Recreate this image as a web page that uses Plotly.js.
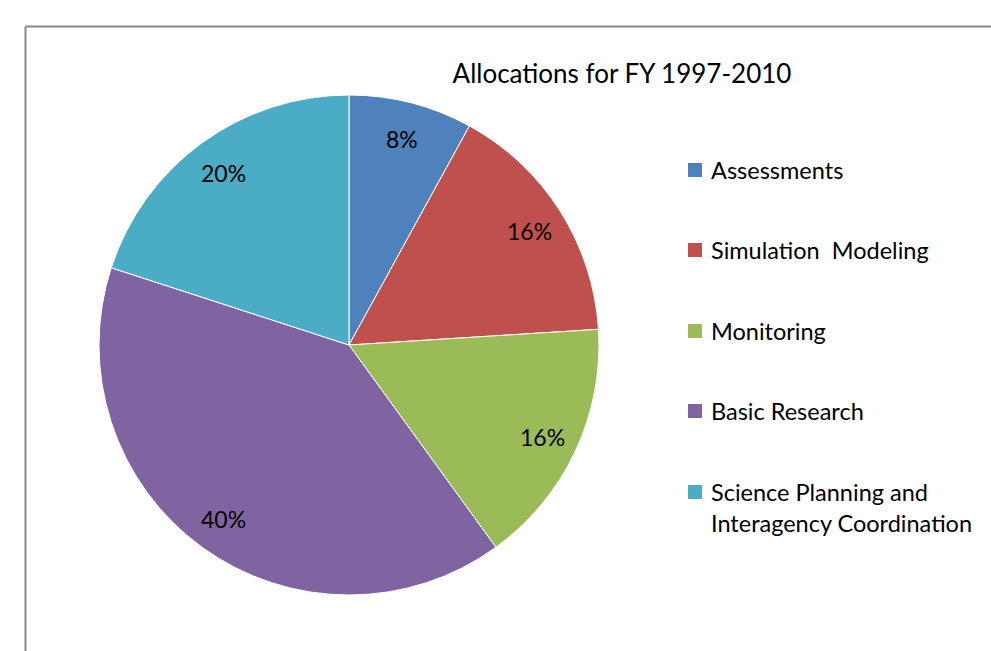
<!DOCTYPE html>
<html>
<head>
<meta charset="utf-8">
<script src="https://cdn.plot.ly/plotly-3.0.1.min.js"></script>
<style>html,body{margin:0;padding:0;background:#fff;}#chart{width:991px;height:651px;}</style>
</head>
<body>
<div id="chart"></div>
<script>
var categories = ["Assessments", "Simulation  Modeling", "Monitoring", "Basic Research", "Science Planning and Interagency Coordination"];
var legendText = ["Assessments", "Simulation  Modeling", "Monitoring", "Basic Research", "Science Planning and<br>Interagency Coordination"];
var values = [8, 16, 16, 40, 20];
var colors = ["#4F81BD", "#C0504D", "#9BBB59", "#8064A2", "#4BACC6"];
var titleText = "Allocations for FY 1997-2010";

var W = 991, H = 651;
var cx = 349, cy = 345, R = 250;
var FONT = "Lato, 'Open Sans', sans-serif";
function px(x){ return x / W; }
function py(y){ return 1 - y / H; }

var trace = {
  type: "pie",
  labels: categories,
  values: values,
  sort: false,
  direction: "clockwise",
  rotation: 0,
  marker: { colors: colors, line: { color: "#ffffff", width: 1 } },
  textinfo: "none",
  hoverinfo: "label+percent",
  showlegend: false,
  domain: { x: [px(cx - R), px(cx + R)], y: [py(cy + R), py(cy - R)] }
};

var annotations = [];
var total = values.reduce(function(a,b){return a+b;}, 0);
var cum = 0;
for (var i = 0; i < values.length; i++) {
  var mid = (cum + values[i] / 2) / total * 2 * Math.PI;
  cum += values[i];
  var r = 0.855 * R;
  annotations.push({
    xref: "paper", yref: "paper",
    x: px(cx + r * Math.sin(mid)), y: py(cy - r * Math.cos(mid) + 1),
    text: Math.round(values[i] / total * 100) + "%",
    showarrow: false, xanchor: "center", yanchor: "middle",
    font: { family: FONT, size: 23, color: "#000" }
  });
}

var legendY = [170, 250, 331, 411, 507];
var squareY = [170, 250, 331, 411, 492];
var shapes = [];
for (var j = 0; j < categories.length; j++) {
  shapes.push({
    type: "rect", xref: "paper", yref: "paper",
    x0: px(688), x1: px(702), y0: py(squareY[j] + 7), y1: py(squareY[j] - 7),
    fillcolor: colors[j], line: { width: 0 }
  });
  annotations.push({
    xref: "paper", yref: "paper",
    x: px(709), y: py(legendY[j]),
    text: legendText[j], align: "left",
    showarrow: false, xanchor: "left", yanchor: "middle",
    font: { family: FONT, size: 23.5, color: "#000" }
  });
}

// chart area border (top and left edges visible)
shapes.push({ type: "line", xref: "paper", yref: "paper", x0: px(25.5), x1: px(25.5), y0: 0, y1: py(26.5), line: { color: "#878787", width: 2 } });
shapes.push({ type: "line", xref: "paper", yref: "paper", x0: px(25.5), x1: 1, y0: py(26.5), y1: py(26.5), line: { color: "#878787", width: 2 } });

var layout = {
  width: W, height: H,
  margin: { l: 0, r: 0, t: 0, b: 0 },
  paper_bgcolor: "#ffffff",
  title: { text: titleText, x: px(622), xanchor: "center", y: py(74), yanchor: "middle", yref: "container",
           font: { family: FONT, size: 26, color: "#000" } },
  showlegend: false,
  annotations: annotations,
  shapes: shapes
};

Plotly.newPlot("chart", [trace], layout, { displayModeBar: false, staticPlot: true });
</script>
</body>
</html>
